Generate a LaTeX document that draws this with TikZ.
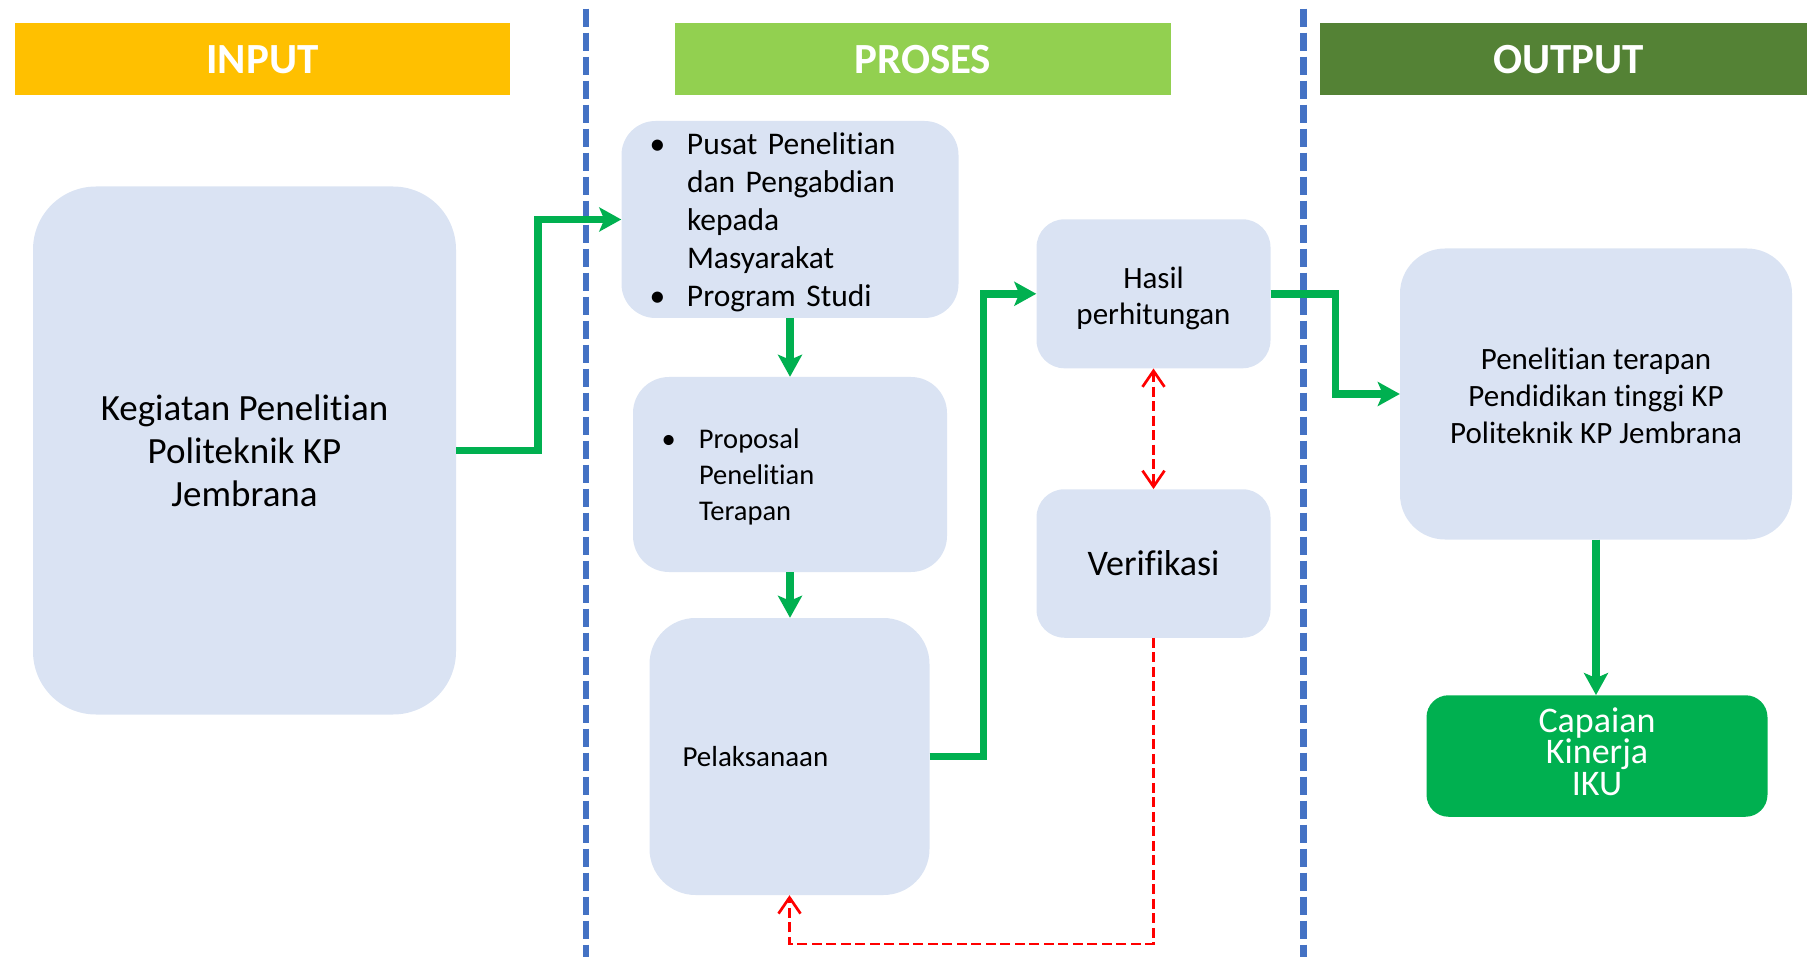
\documentclass[tikz,border=0pt]{standalone}
\usepackage{fontspec}
\setmainfont{Carlito}[Ligatures=NoCommon]
\usetikzlibrary{arrows.meta}
\definecolor{boxfill}{HTML}{DAE3F3}
\definecolor{inputc}{HTML}{FFC000}
\definecolor{prosesc}{HTML}{92D050}
\definecolor{outputc}{HTML}{548235}
\definecolor{greenc}{HTML}{00B050}
\definecolor{bluec}{HTML}{4472C4}
\definecolor{redc}{HTML}{FF0000}
\newcommand\mybul[1]{\makebox[#1][l]{\textbullet}}
\newcommand\tightls{\lineskiplimit-100pt\relax}
\newcommand\topstrut[1]{\rule{0pt}{#1}}
\newcommand\botstrut[1]{\rule[-#1]{0pt}{#1}}
\tikzset{
  hdr/.style={minimum height=71.5pt, inner sep=0pt, text=white, text height=40pt, text depth=9.6pt,
              font=\fontsize{43}{52}\selectfont\bfseries},
  rbox/.style={fill=boxfill, inner sep=0pt, align=center},
  garrow/.style={draw=greenc, line width=7.5pt, -{Stealth[length=22pt,width=24pt,inset=5pt]}},
  rline/.style={draw=redc, line width=2.7pt, dash pattern=on 10pt off 4.5pt},
  sepline/.style={draw=bluec, line width=6.4pt, dash pattern=on 18pt off 6pt}
}
\begin{document}
\begin{tikzpicture}[x=1pt,y=-1pt]
\useasboundingbox (0,0) rectangle (1807,957);
% separators
\coordinate (s1a) at (586,8.7);
\coordinate (s1b) at (586,957);
\coordinate (s2a) at (1303.6,8.7);
\coordinate (s2b) at (1303.6,957);
\draw[sepline] (s1a) -- (s1b);
\draw[sepline] (s2a) -- (s2b);
% headers
\node[hdr, fill=inputc, minimum width=495pt] (hin) at (262.5,58.8) {INPUT};
\node[hdr, fill=prosesc, minimum width=495.5pt] (hpr) at (922.8,58.8) {PROSES};
\node[hdr, fill=outputc, minimum width=497pt] (hout) at (1568.5,58.8) {OUTPUT};
% boxes
\node[rbox, rounded corners=63pt, minimum width=423pt, minimum height=528pt,
      font=\fontsize{37}{43.3}\selectfont] (keg) at (244.5,450.5)
      {\topstrut{47pt}Kegiatan Penelitian\\Politeknik KP\\Jembrana\botstrut{21pt}};
\node[rbox, rounded corners=34pt, minimum width=337pt, minimum height=197pt,
      text width=281pt, align=left, inner xsep=28pt,
      font=\fontsize{31.5}{38.1}\selectfont] (pusat) at (790,219.5)
      {\topstrut{31pt}\mybul{37.5pt}Pusat Penelitian\\\hspace*{37.5pt}dan Pengabdian\\\hspace*{37.5pt}kepada\\\hspace*{37.5pt}Masyarakat\\\mybul{37.5pt}Program Studi\botstrut{9pt}};
\node[rbox, rounded corners=36pt, minimum width=313pt, minimum height=195pt,
      text width=257pt, align=left, inner xsep=28.5pt,
      font=\fontsize{28.5}{36}\selectfont] (prop) at (790,474.5)
      {\topstrut{40pt}\mybul{37.5pt}Proposal\\\hspace*{37.5pt}Penelitian\\\hspace*{37.5pt}Terapan\botstrut{20.4pt}};
\node[rbox, rounded corners=46pt, minimum width=280pt, minimum height=277pt,
      text width=214pt, align=left, inner xsep=33pt,
      font=\fontsize{29}{36}\selectfont] (pel) at (789.5,756.5)
      {Pelaksanaan};
\node[rbox, rounded corners=28pt, minimum width=234pt, minimum height=149pt,
      font=\fontsize{31}{36.7}\selectfont] (hasil) at (1153.5,293.8)
      {\topstrut{43pt}Hasil\\perhitungan\botstrut{17.5pt}};
\node[rbox, rounded corners=28pt, minimum width=234pt, minimum height=148.5pt,
      font=\fontsize{36}{44}\selectfont] (ver) at (1153.5,563.5)
      {Verifikasi};
\node[rbox, rounded corners=45pt, minimum width=392pt, minimum height=291pt,
      font=\fontsize{31}{37}\selectfont] (pen) at (1596,394)
      {\topstrut{46pt}Penelitian terapan\\Pendidikan tinggi KP\\Politeknik KP Jembrana\botstrut{22pt}};
\node[fill=greenc, rounded corners=22pt, inner sep=0pt, align=center, text=white,
      minimum width=341pt, minimum height=121.5pt,
      font=\fontsize{36}{31.5}\selectfont\tightls] (cap) at (1597,756)
      {\topstrut{33pt}Capaian\\Kinerja\\IKU\botstrut{17.2pt}};
% green connectors
\draw[garrow] (keg.east) -- ++(82,0) |- (pusat.west);
\draw[garrow] (pusat.south) -- (prop.north);
\draw[garrow] (prop.south) -- (pel.north -| prop.south);
\draw[garrow] (pel.east) -- ++(54,0) |- (hasil.west);
\draw[garrow] (hasil.east) -- ++(65,0) |- (pen.west);
\draw[garrow] (pen.south) -- (cap.north -| pen.south);
% red dashed connectors
\draw[rline, {Straight Barb[length=16pt,width=22pt]}-{Straight Barb[length=16pt,width=22pt]}] (hasil.south) -- (ver.north);
\draw[rline, -{Straight Barb[length=16pt,width=22pt]}] (ver.south) -- ++(0,306) -| (pel.south);
\end{tikzpicture}
\end{document}
